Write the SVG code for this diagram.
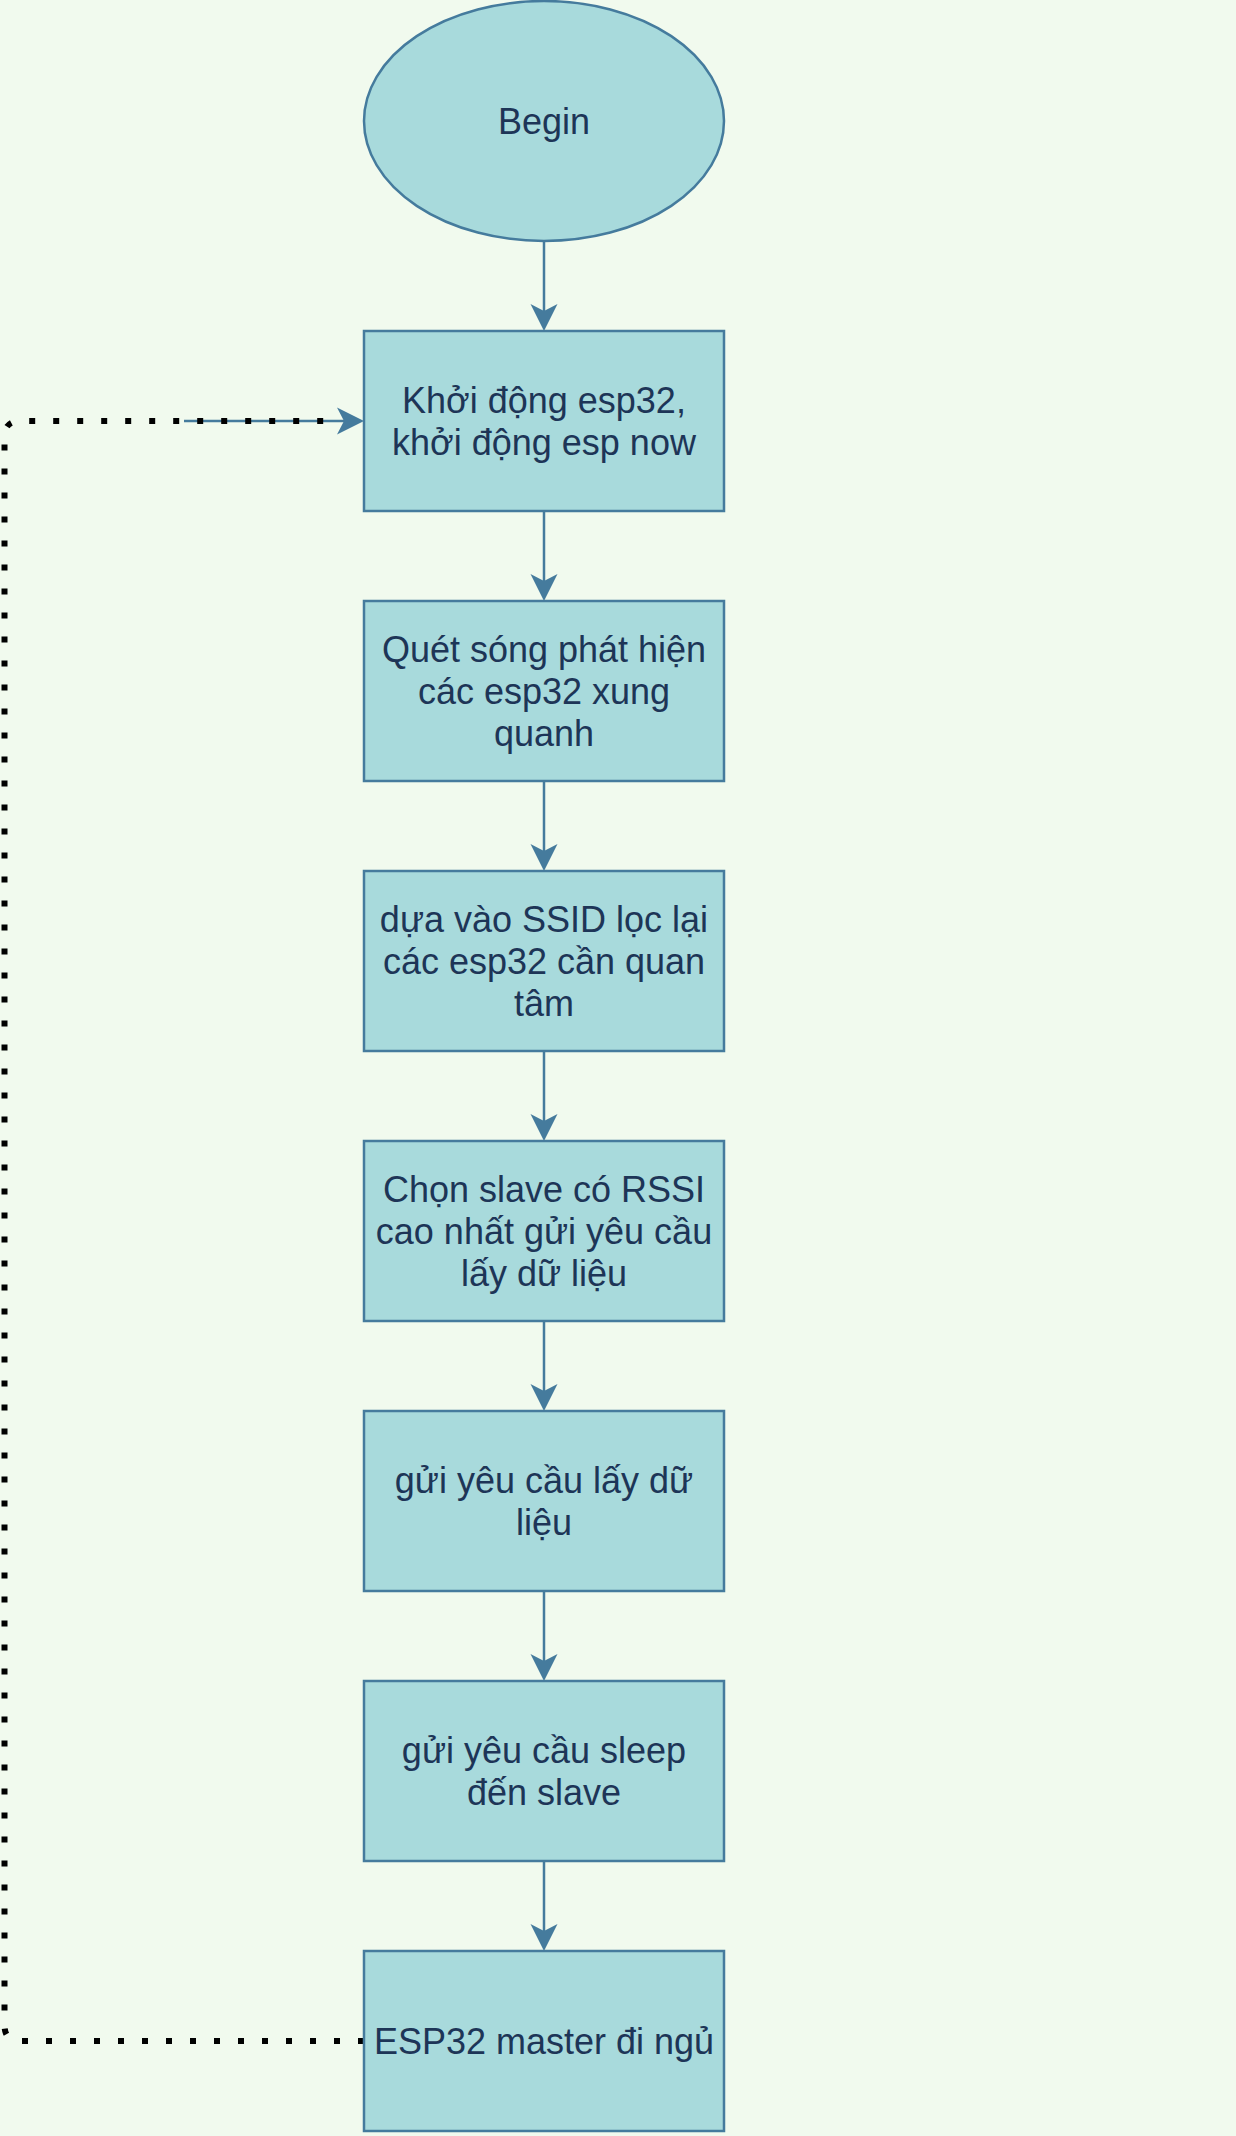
<svg xmlns="http://www.w3.org/2000/svg" width="1236" height="2136" viewBox="0 0 1236 2136">
<style>
.n{fill:#A8DADC;stroke:#457B9D;stroke-width:2.5}
.t{font-family:"Liberation Sans",Arial,sans-serif;font-size:36px;fill:#1D3557;text-anchor:middle}
.e{fill:none;stroke:#457B9D;stroke-width:2.5}
.d{fill:none;stroke:#000;stroke-width:6;stroke-dasharray:6 18}
</style>
<defs>
<marker id="ar" markerUnits="userSpaceOnUse" markerWidth="28" markerHeight="28" viewBox="0 0 28 28" refX="19" refY="14" orient="auto">
<path d="M0,0.5 L27,14 L0,27.5 L7,14 Z" fill="#457B9D"/>
</marker>
</defs>
<rect width="1236" height="2136" fill="#F1FAEE"/>
<g id="connectors">
<path class="e" d="M544,241 V323" marker-end="url(#ar)"/>
<path class="e" d="M544,511 V593" marker-end="url(#ar)"/>
<path class="e" d="M544,781 V863" marker-end="url(#ar)"/>
<path class="e" d="M544,1051 V1133" marker-end="url(#ar)"/>
<path class="e" d="M544,1321 V1403" marker-end="url(#ar)"/>
<path class="e" d="M544,1591 V1673" marker-end="url(#ar)"/>
<path class="e" d="M544,1861 V1943" marker-end="url(#ar)"/>
<path class="e" d="M184,421 H356" marker-end="url(#ar)"/>
<path class="d" d="M364,2041 H20 Q4.5,2041 4.5,2025 V437 Q4.5,421 20,421 H337"/>
</g>
<g id="begin"><ellipse class="n" cx="544" cy="121" rx="180" ry="120"/><text class="t" x="544" y="134">Begin</text></g>
<g id="n1"><rect class="n" x="364" y="331" width="360" height="180"/><text class="t" x="544" y="413">Khởi động esp32,</text><text class="t" x="544" y="455">khởi động esp now</text></g>
<g id="n2"><rect class="n" x="364" y="601" width="360" height="180"/><text class="t" x="544" y="662">Quét sóng phát hiện</text><text class="t" x="544" y="704">các esp32 xung</text><text class="t" x="544" y="746">quanh</text></g>
<g id="n3"><rect class="n" x="364" y="871" width="360" height="180"/><text class="t" x="544" y="932">dựa vào SSID lọc lại</text><text class="t" x="544" y="974">các esp32 cần quan</text><text class="t" x="544" y="1016">tâm</text></g>
<g id="n4"><rect class="n" x="364" y="1141" width="360" height="180"/><text class="t" x="544" y="1202">Chọn slave có RSSI</text><text class="t" x="544" y="1244">cao nhất gửi yêu cầu</text><text class="t" x="544" y="1286">lấy dữ liệu</text></g>
<g id="n5"><rect class="n" x="364" y="1411" width="360" height="180"/><text class="t" x="544" y="1493">gửi yêu cầu lấy dữ</text><text class="t" x="544" y="1535">liệu</text></g>
<g id="n6"><rect class="n" x="364" y="1681" width="360" height="180"/><text class="t" x="544" y="1763">gửi yêu cầu sleep</text><text class="t" x="544" y="1805">đến slave</text></g>
<g id="n7"><rect class="n" x="364" y="1951" width="360" height="180"/><text class="t" x="544" y="2054">ESP32 master đi ngủ</text></g>
</svg>
